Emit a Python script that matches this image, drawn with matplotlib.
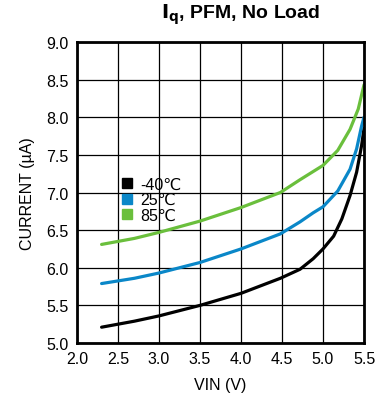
import matplotlib
matplotlib.use('Agg')
import matplotlib.pyplot as plt
from matplotlib.lines import Line2D

plt.rcParams['font.family'] = ['Liberation Sans', 'DejaVu Sans']

vin_m40 = [2.3, 2.7, 3.0, 3.5, 4.0, 4.48, 4.72, 4.88, 5.0, 5.13, 5.23, 5.33, 5.41, 5.47, 5.5]
i_m40 = [5.21, 5.29, 5.36, 5.50, 5.66, 5.86, 5.98, 6.12, 6.25, 6.42, 6.65, 6.96, 7.27, 7.62, 7.85]
vin_25 = [2.3, 2.7, 3.0, 3.5, 4.0, 4.48, 4.72, 4.88, 5.0, 5.18, 5.33, 5.41, 5.47, 5.5]
i_25 = [5.79, 5.86, 5.93, 6.07, 6.25, 6.45, 6.61, 6.73, 6.81, 7.02, 7.31, 7.58, 7.88, 8.00]
vin_85 = [2.3, 2.7, 3.0, 3.5, 4.0, 4.48, 4.72, 5.0, 5.18, 5.33, 5.43, 5.5]
i_85 = [6.31, 6.39, 6.47, 6.62, 6.80, 7.00, 7.17, 7.36, 7.56, 7.84, 8.11, 8.43]
labels = ['-40\u2103', '25\u2103', '85\u2103']
colors = ['#000000', '#0a87c8', '#6abf3c']

fig = plt.figure(figsize=(3.78, 4.02), dpi=100)
ax = fig.add_axes([77/378, 1 - 344/402, (364-77)/378, (344-43)/402])

for x, y, c in zip([vin_m40, vin_25, vin_85], [i_m40, i_25, i_85], colors):
    ax.plot(x, y, color=c, lw=2.3, solid_capstyle='round', solid_joinstyle='round')

ax.set_xlim(2.0, 5.5)
ax.set_ylim(5.0, 9.0)
ax.set_xticks([2.0, 2.5, 3.0, 3.5, 4.0, 4.5, 5.0, 5.5])
ax.set_yticks([5.0, 5.5, 6.0, 6.5, 7.0, 7.5, 8.0, 8.5, 9.0])
ax.xaxis.set_major_formatter(plt.FormatStrFormatter('%.1f'))
ax.yaxis.set_major_formatter(plt.FormatStrFormatter('%.1f'))
ax.tick_params(length=0, labelsize=11.5, pad=6)
ax.grid(True, color='black', lw=0.9)
for s in ax.spines.values():
    s.set_linewidth(2)

ax.set_xlabel('VIN (V)', fontsize=11.5, labelpad=8)
ax.set_ylabel('CURRENT (\u00b5A)', fontsize=11.5, labelpad=8)

handles = [Line2D([], [], ls='none', marker='s', ms=7, color=c) for c in colors]
leg = ax.legend(handles, labels, loc='upper left', bbox_to_anchor=(0.12, 0.58),
                frameon=False, fontsize=11.5, handletextpad=0.3,
                labelspacing=0.05, borderpad=0, handlelength=1.0)

fig.text(0.637, 0.963, r'$\mathbf{I_q}$, PFM, No Load', ha='center', va='center',
         fontsize=14, fontweight='bold')

fig.savefig('out.png', dpi=100)
